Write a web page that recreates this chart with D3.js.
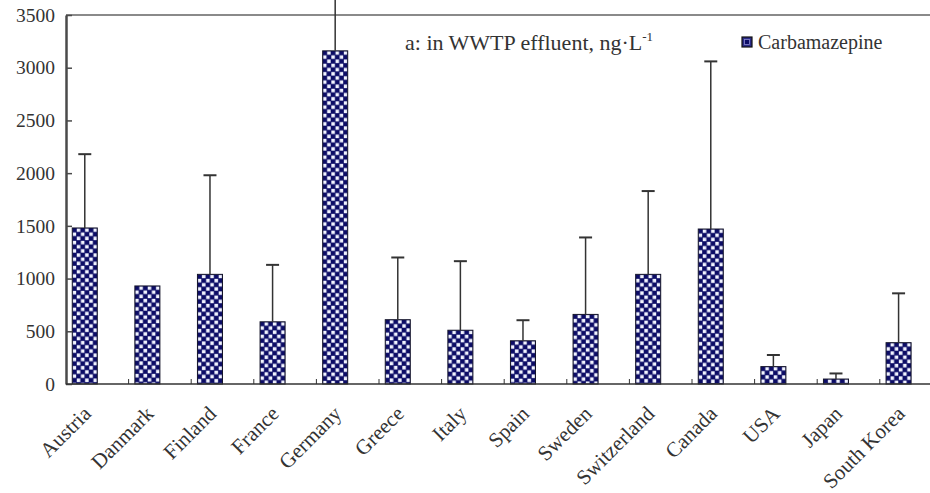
<!DOCTYPE html>
<html>
<head>
<meta charset="utf-8">
<script src="https://cdn.jsdelivr.net/npm/d3@7"></script>
<style>
  html, body { margin: 0; padding: 0; background: #fff; }
  svg { display: block; }
</style>
</head>
<body>
<svg id="chart" width="930" height="493"></svg>
<script>
// Carbamazepine in WWTP effluent (ng/L): mean per country and upper error (+SD)
const categories = ["Austria", "Danmark", "Finland", "France", "Germany", "Greece", "Italy",
  "Spain", "Sweden", "Switzerland", "Canada", "USA", "Japan", "South Korea"];
const meanValues = [1480, 930, 1040, 590, 3160, 610, 510, 410, 660, 1040, 1470, 165, 47, 392];
const errorPlus  = [700, 0, 940, 540, 600, 590, 655, 195, 730, 790, 1590, 110, 53, 468];
const yTicks = [0, 500, 1000, 1500, 2000, 2500, 3000, 3500];
const seriesName = "Carbamazepine";
const titleMain = "a: in WWTP effluent, ng·L";
const titleSup = "-1";

const FONT = "'Liberation Serif', Tinos, 'Times New Roman', Times, 'DejaVu Serif', 'Noto Serif', serif";
const TEXT_COLOR = "#333";
const NAVY = "#0c0c66";

const svg = d3.select("#chart");
const W = 930, H = 493;
const plotLeft = 66, plotTop = 15, plotBottom = 384;
const step = 62.6;

svg.append("rect").attr("width", W).attr("height", H).attr("fill", "#fff");

const x = d3.scaleBand().domain(categories)
  .range([plotLeft, plotLeft + step * categories.length]).paddingInner(0).paddingOuter(0);
const y = d3.scaleLinear().domain([0, 3500]).range([plotBottom, plotTop]);

const bw = x.bandwidth() * 0.4;           // bar width (first of two slots)
const bOff = x.bandwidth() * 0.1;         // gap before bar
const cell = bw / 6;                      // checker cell size
const dot = cell * 0.85;                  // light square, slightly smaller than a cell

// checkerboard fill (light squares on navy), one pattern per bar anchored at its corner
const defs = svg.append("defs");
categories.forEach((c, i) => {
  const bx = x(c) + bOff;
  const by = y(meanValues[i]);
  const p = defs.append("pattern")
    .attr("id", "chk" + i)
    .attr("patternUnits", "userSpaceOnUse")
    .attr("x", bx).attr("y", by)
    .attr("width", cell * 2).attr("height", cell * 2);
  p.append("rect").attr("width", cell * 2).attr("height", cell * 2).attr("fill", NAVY);
  const o = (cell - dot) / 2;
  p.append("rect").attr("x", cell + o).attr("y", o).attr("width", dot).attr("height", dot).attr("fill", "#f2f4ff");
  p.append("rect").attr("x", o).attr("y", cell + o).attr("width", dot).attr("height", dot).attr("fill", "#f2f4ff");
});

// top frame line
svg.append("line")
  .attr("x1", plotLeft).attr("x2", W).attr("y1", y(3500)).attr("y2", y(3500))
  .attr("stroke", "#8a8a8a").attr("stroke-width", 2);

// bars
svg.append("g").selectAll("rect")
  .data(categories)
  .join("rect")
  .attr("x", c => x(c) + bOff)
  .attr("y", (c, i) => y(meanValues[i]))
  .attr("width", bw)
  .attr("height", (c, i) => y(0) - y(meanValues[i]))
  .attr("fill", (c, i) => `url(#chk${i})`)
  .attr("stroke", "#15152a")
  .attr("stroke-width", 1);

// upper error bars
const eg = svg.append("g").attr("stroke", "#333");
categories.forEach((c, i) => {
  if (!errorPlus[i]) return;
  const cx = x(c) + bOff + bw / 2;
  const y1 = y(meanValues[i]);
  const y2 = y(meanValues[i] + errorPlus[i]);
  eg.append("line").attr("x1", cx).attr("x2", cx).attr("y1", y1).attr("y2", y2).attr("stroke-width", 1.5);
  eg.append("line").attr("x1", cx - 6.5).attr("x2", cx + 6.5).attr("y1", y2).attr("y2", y2).attr("stroke-width", 2);
});

// y axis
const yAxis = svg.append("g")
  .attr("transform", `translate(${plotLeft},0)`)
  .call(d3.axisLeft(y).tickValues(yTicks).tickFormat(d3.format("d"))
    .tickSizeInner(-6).tickSizeOuter(0).tickPadding(11));
yAxis.attr("font-family", FONT);
yAxis.select(".domain").attr("stroke", "#4a4a4a").attr("stroke-width", 2.5);
yAxis.selectAll(".tick line").attr("stroke", "#4a4a4a").attr("stroke-width", 1.5);
yAxis.selectAll(".tick text")
  .style("font-family", FONT)
  .style("font-size", "19.5px").attr("fill", TEXT_COLOR);

// x axis line and category boundary ticks
svg.append("line")
  .attr("x1", plotLeft).attr("x2", W).attr("y1", y(0)).attr("y2", y(0))
  .attr("stroke", "#333").attr("stroke-width", 1.5);
svg.append("g").selectAll("line")
  .data(categories.slice(1))
  .join("line")
  .attr("x1", c => x(c)).attr("x2", c => x(c))
  .attr("y1", y(0)).attr("y2", y(0) - 5)
  .attr("stroke", "#333").attr("stroke-width", 1);

// rotated category labels
svg.append("g").selectAll("text")
  .data(categories)
  .join("text")
  .attr("text-anchor", "end")
  .attr("transform", c => `translate(${x(c) + x.bandwidth() / 2 - 5},415) rotate(-45)`)
  .style("font-family", FONT)
  .style("font-size", "21px")
  .attr("fill", TEXT_COLOR)
  .text(c => c);

// title
const t = svg.append("text").attr("x", 405).attr("y", 50)
  .style("font-family", FONT).style("font-size", "22px").attr("fill", TEXT_COLOR);
t.append("tspan").text(titleMain);
t.append("tspan").attr("dy", -9).style("font-size", "13px").text(titleSup);

// legend
svg.append("rect").attr("x", 742).attr("y", 37).attr("width", 10).attr("height", 10)
  .attr("fill", "#2a2a88").attr("stroke", "#111").attr("stroke-width", 1.2);
svg.append("rect").attr("x", 744.5).attr("y", 39.5).attr("width", 5).attr("height", 5)
  .attr("fill", NAVY).attr("stroke", "#8a8ad0").attr("stroke-width", 0.8);
svg.append("text").attr("x", 758).attr("y", 49)
  .style("font-family", FONT).style("font-size", "20px").attr("fill", TEXT_COLOR)
  .text(seriesName);
</script>
</body>
</html>
